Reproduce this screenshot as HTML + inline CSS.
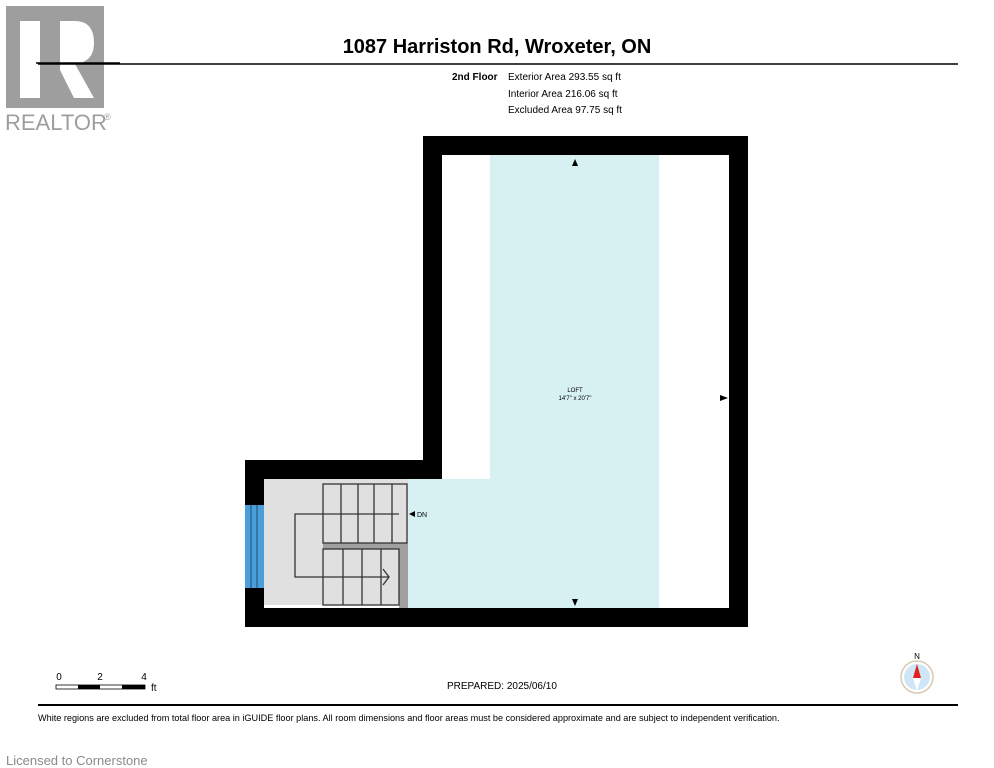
<!DOCTYPE html>
<html><head><meta charset="utf-8"><style>
html,body{margin:0;padding:0;background:#fff;width:994px;height:768px;overflow:hidden}
svg{display:block;font-family:"Liberation Sans",Arial,sans-serif}
</style></head><body>
<svg width="994" height="768" viewBox="0 0 994 768">
<rect x="6" y="6" width="98" height="102" fill="#9e9e9e"/>
<rect x="20" y="21" width="20" height="77" fill="#fff"/>
<path d="M60 21 H75 Q94 21 94 43 Q94 62 75 64 L94 98 H74 L60 70 Z" fill="#fff"/>
<line x1="36" y1="63" x2="120" y2="63" stroke="#000" stroke-width="1.5"/>
<text x="5" y="130" font-size="22" fill="#9e9e9e">REALTOR</text>
<text x="104" y="120" font-size="9" fill="#9e9e9e">®</text>
<text x="497" y="53" font-size="20" font-weight="bold" text-anchor="middle">1087 Harriston Rd, Wroxeter, ON</text>
<line x1="38" y1="64" x2="958" y2="64" stroke="#000" stroke-width="1.5"/>
<text x="452" y="80" font-size="10" font-weight="bold">2nd Floor</text>
<text x="508" y="80" font-size="10">Exterior Area 293.55 sq ft</text>
<text x="508" y="97" font-size="10">Interior Area 216.06 sq ft</text>
<text x="508" y="113" font-size="10">Excluded Area 97.75 sq ft</text>
<rect x="423" y="136" width="325" height="491" fill="#000"/>
<rect x="245" y="460" width="200" height="167" fill="#000"/>
<rect x="442" y="155" width="287" height="453" fill="#fff"/>
<rect x="264" y="479" width="200" height="129" fill="#fff"/>
<rect x="490" y="155" width="169" height="453" fill="#d7f0f1"/>
<rect x="408" y="479" width="90" height="129" fill="#d7f0f1"/>
<rect x="264" y="479" width="144" height="126" fill="#e0e0e0"/>
<rect x="399" y="543" width="9" height="65" fill="#a0a0a0"/>
<rect x="323" y="543" width="85" height="6" fill="#a0a0a0"/>
<rect x="245" y="505" width="19" height="83" fill="#4a9fdb"/>
<g stroke="#1a4e78" stroke-width="1"><line x1="251" y1="505" x2="251" y2="588"/><line x1="257" y1="505" x2="257" y2="588"/></g>
<g stroke="#333" stroke-width="1.3" fill="none">
<rect x="323" y="484" width="84" height="59"/>
<line x1="341" y1="484" x2="341" y2="543"/><line x1="358" y1="484" x2="358" y2="543"/><line x1="374" y1="484" x2="374" y2="543"/><line x1="392" y1="484" x2="392" y2="543"/>
<rect x="323" y="549" width="76" height="56"/>
<line x1="343" y1="549" x2="343" y2="605"/><line x1="362" y1="549" x2="362" y2="605"/><line x1="381" y1="549" x2="381" y2="605"/>
<polyline points="399,514 295,514 295,577 389,577"/>
<polyline points="383,569 389,577 383,585"/>
</g>
<path d="M409 514 L415 511 L415 517 Z" fill="#000"/>
<text x="417" y="517" font-size="7">DN</text>
<text x="575" y="392" font-size="6" text-anchor="middle">LOFT</text>
<text x="575" y="400" font-size="6" text-anchor="middle">14'7" x 20'7"</text>
<path d="M575 159 L572 166 L578 166 Z" fill="#000"/>
<path d="M575 606 L572 599 L578 599 Z" fill="#000"/>
<path d="M728 398 L720 395 L720 401 Z" fill="#000"/>
<text x="59" y="680" font-size="10" text-anchor="middle">0</text>
<text x="100" y="680" font-size="10" text-anchor="middle">2</text>
<text x="144" y="680" font-size="10" text-anchor="middle">4</text>
<rect x="56" y="685" width="89" height="4" fill="#fff" stroke="#000" stroke-width="0.8"/>
<rect x="78" y="685" width="22" height="4" fill="#000"/>
<rect x="122" y="685" width="23" height="4" fill="#000"/>
<text x="151" y="691" font-size="10">ft</text>
<text x="447" y="689" font-size="10">PREPARED: 2025/06/10</text>
<text x="917" y="659" font-size="8" text-anchor="middle">N</text>
<circle cx="917" cy="677" r="16" fill="#fff" stroke="#d9c9b0" stroke-width="1.5"/>
<circle cx="917" cy="677" r="13" fill="#cfe6f7"/>
<path d="M917 664 L913 678 L921 678 Z" fill="#e02020"/>
<path d="M917 691 L913 678 L921 678 Z" fill="#fff"/>
<line x1="38" y1="705" x2="958" y2="705" stroke="#000" stroke-width="2"/>
<text x="38" y="721" font-size="9.13">White regions are excluded from total floor area in iGUIDE floor plans. All room dimensions and floor areas must be considered approximate and are subject to independent verification.</text>
<text x="6" y="765" font-size="13" fill="#8a8a8a">Licensed to Cornerstone</text>
</svg>
</body></html>
